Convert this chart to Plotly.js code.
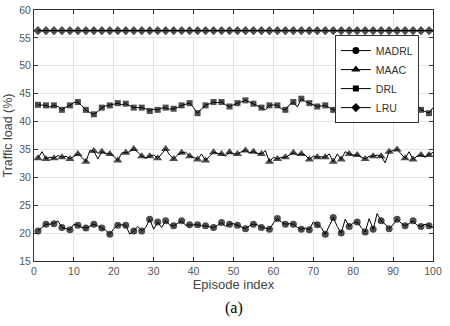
<!DOCTYPE html>
<html><head><meta charset="utf-8">
<script src="https://cdn.plot.ly/plotly-3.0.1.min.js"></script>
<style>html,body{margin:0;padding:0;background:#fff;}#chart{width:450px;height:326px;}</style>
</head><body><div id="chart"></div>
<script>
var episodes = [];
for (var i = 1; i <= 100; i++) episodes.push(i);

var madrl = [20.4,21.0,21.6,21.6,21.7,22.2,21.0,20.8,20.6,21.6,
21.4,21.0,20.9,21.2,21.6,21.3,20.9,20.5,19.8,20.8,
21.4,21.5,21.4,19.8,20.4,21.2,20.4,21.0,22.5,20.7,
22.0,21.0,22.2,21.5,21.3,21.8,22.2,21.4,21.5,21.5,
21.5,21.3,21.3,21.1,21.0,21.4,21.9,21.2,21.6,21.7,
21.4,21.0,20.8,21.3,21.6,21.5,21.0,20.9,20.7,21.8,
22.6,22.0,21.6,21.7,21.6,21.0,20.7,20.9,20.6,22.0,
21.5,21.0,19.8,21.2,22.8,21.2,20.0,22.5,21.2,21.8,
22.0,21.0,20.2,22.6,20.7,23.5,22.2,21.6,20.8,21.5,
22.5,21.8,21.3,21.7,22.2,21.4,21.2,21.6,21.3,21.0];

var maac = [33.4,34.6,33.3,33.6,33.4,33.9,33.6,33.8,33.3,33.8,
34.2,33.6,32.8,34.8,34.7,33.3,34.6,34.3,34.2,33.8,
33.0,34.4,34.4,34.6,35.1,34.5,33.8,33.4,33.8,34.0,
33.4,34.2,35.1,34.0,33.3,34.0,34.4,34.5,33.8,33.6,
33.2,34.2,33.0,33.8,34.5,34.3,34.2,33.8,34.5,34.2,
34.2,34.6,34.8,34.4,34.6,34.3,34.2,34.8,32.8,33.6,
33.3,33.6,33.6,34.0,34.4,34.0,34.2,34.0,33.2,33.8,
33.6,33.7,33.6,34.2,32.8,34.2,33.2,34.6,34.2,34.0,
34.0,33.6,33.3,33.8,33.8,34.0,33.8,32.6,34.6,34.8,
35.0,34.2,33.4,34.6,33.2,33.8,34.0,33.6,34.0,34.5];

var drl = [43.0,43.0,42.9,42.6,42.9,42.7,42.1,42.6,42.9,43.4,
43.5,42.8,42.1,41.6,41.3,41.8,42.5,42.8,42.9,43.1,
43.3,43.0,43.2,42.8,42.5,42.5,42.5,42.3,41.9,42.2,
42.1,42.4,42.5,42.2,42.3,42.5,42.9,43.1,43.3,42.5,
41.5,42.3,42.9,43.2,43.5,43.4,43.5,43.0,42.7,43.0,
43.3,43.6,43.8,43.5,43.2,42.8,42.5,42.1,42.9,43.0,
42.9,42.3,42.1,43.0,43.5,42.6,44.1,43.6,43.3,43.0,
42.7,42.8,42.9,42.5,42.1,42.0,41.9,41.7,41.5,42.2,
42.7,43.2,43.5,43.5,43.5,42.9,42.3,41.9,41.5,42.6,
43.5,43.8,41.9,42.5,42.9,43.0,42.1,41.8,41.5,42.5];

var lru = [56.3,56.3,56.3,56.3,56.3,56.3,56.3,56.3,56.3,56.3,
56.3,56.3,56.3,56.3,56.3,56.3,56.3,56.3,56.3,56.3,
56.3,56.3,56.3,56.3,56.3,56.3,56.3,56.3,56.3,56.3,
56.3,56.3,56.3,56.3,56.3,56.3,56.3,56.3,56.3,56.3,
56.3,56.3,56.3,56.3,56.3,56.3,56.3,56.3,56.3,56.3,
56.3,56.3,56.3,56.3,56.3,56.3,56.3,56.3,56.3,56.3,
56.3,56.3,56.3,56.3,56.3,56.3,56.3,56.3,56.3,56.3,
56.3,56.3,56.3,56.3,56.3,56.3,56.3,56.3,56.3,56.3,
56.3,56.3,56.3,56.3,56.3,56.3,56.3,56.3,56.3,56.3,
56.3,56.3,56.3,56.3,56.3,56.3,56.3,56.3,56.3,56.3];

var seriesNames = ['MADRL','MAAC','DRL','LRU'];
var seriesData = [madrl, maac, drl, lru];
var symbols = ['circle','triangle-up','square','diamond'];
var symSizes = [7, 8, 6, 7];

var traces = [];
seriesData.forEach(function(ys, k){
  var sizes = ys.map(function(v, i){ return (i % 2 === 0) ? symSizes[k] : 0; });
  traces.push({
    x: episodes, y: ys, name: seriesNames[k], type: 'scatter', mode: 'lines+markers',
    legendgroup: seriesNames[k], showlegend: false,
    line: {color: '#000', width: 1},
    marker: {symbol: symbols[k], size: sizes, color: '#000', line: {width: 0}}
  });
});
// legend entries (no data points; only the legend swatch)
seriesData.forEach(function(ys, k){
  traces.push({
    x: [null], y: [null], name: seriesNames[k], type: 'scatter', mode: 'lines+markers',
    legendgroup: seriesNames[k], showlegend: true,
    line: {color: '#000', width: 1},
    marker: {symbol: symbols[k], size: symSizes[k], color: '#000', line: {width: 0}}
  });
});

var tickFont = {family: 'Liberation Sans, Arial, sans-serif', size: 10.5, color: '#555'};
var layout = {
  width: 450, height: 326,
  margin: {l: 34, r: 17, t: 10, b: 65},
  paper_bgcolor: '#fff', plot_bgcolor: '#fff',
  showlegend: true,
  xaxis: {
    range: [0, 100], dtick: 10, tick0: 0, ticks: 'inside', ticklen: 4, tickcolor: '#333',
    showline: true, linecolor: '#333', linewidth: 1, mirror: 'ticks',
    showgrid: true, gridcolor: '#e3e3e3', gridwidth: 1, zeroline: false,
    tickfont: tickFont,
    title: {text: 'Episode index', font: {family: 'Liberation Sans, Arial, sans-serif', size: 13, color: '#444'}, standoff: 1}
  },
  yaxis: {
    range: [15, 60], dtick: 5, tick0: 15, ticks: 'inside', ticklen: 4, tickcolor: '#333',
    showline: true, linecolor: '#333', linewidth: 1, mirror: 'ticks',
    showgrid: true, gridcolor: '#e3e3e3', gridwidth: 1, zeroline: false,
    tickfont: tickFont,
    title: {text: 'Traffic load (%)', font: {family: 'Liberation Sans, Arial, sans-serif', size: 12.5, color: '#444'}, standoff: 3}
  },
  legend: {
    x: 0.754, y: 0.9, xanchor: 'left', yanchor: 'top',
    bgcolor: '#fff', bordercolor: '#333', borderwidth: 1,
    font: {family: 'Liberation Sans, Arial, sans-serif', size: 10.5, color: '#333'},
    itemwidth: 30, tracegroupgap: 0
  },
  annotations: [{
    text: '(a)', xref: 'paper', yref: 'paper', x: 0.5, y: -0.187, xanchor: 'center', yanchor: 'middle',
    showarrow: false, font: {family: 'Liberation Serif, Times New Roman, serif', size: 16, color: '#000'}
  }]
};

Plotly.newPlot('chart', traces, layout, {displayModeBar: false, staticPlot: true});
</script>
</body></html>
